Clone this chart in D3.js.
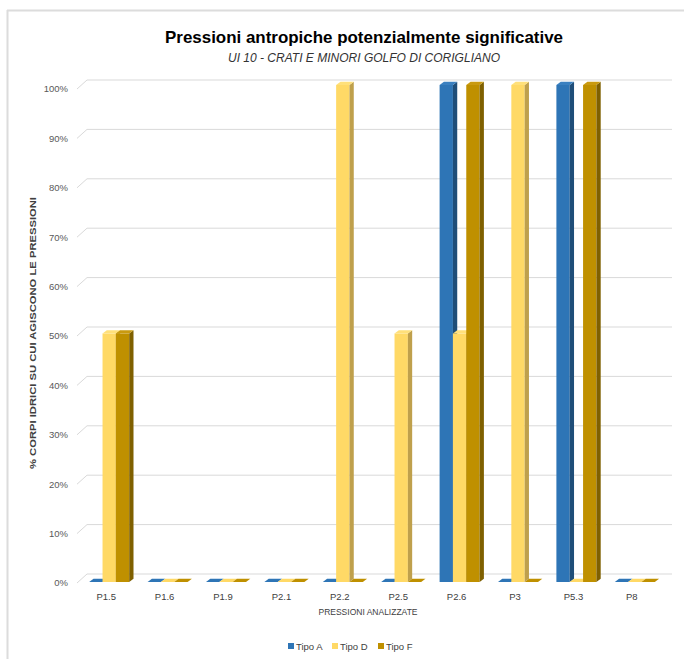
<!DOCTYPE html>
<html><head><meta charset="utf-8">
<script src="https://cdn.jsdelivr.net/npm/d3@7"></script>
<style>body{margin:0;background:#fff}svg{display:block}</style>
</head><body>
<script>
const categories = ["P1.5","P1.6","P1.9","P2.1","P2.2","P2.5","P2.6","P3","P5.3","P8"];
const tipoA = [0,0,0,0,0,0,1,0,1,0];
const tipoD = [0.5,0,0,0,1,0.5,0.5,1,0,0];
const tipoF = [0.5,0,0,0,0,0,1,0,1,0];
const seriesNames = ["Tipo A","Tipo D","Tipo F"];
const yTicks = [0,0.1,0.2,0.3,0.4,0.5,0.6,0.7,0.8,0.9,1];

const colors = [
  {front:"#2E75B6", side:"#1F4E79", top:"#3A80C0"},
  {front:"#FFD966", side:"#BFA04C", top:"#FFE07A"},
  {front:"#BF9000", side:"#7F6000", top:"#C99A10"}
];
const series = [tipoA, tipoD, tipoF];

const W = 684, H = 659;
const svg = d3.select("body").append("svg").attr("width",W).attr("height",H);

// border
svg.append("line").attr("x1",7.5).attr("x2",7.5).attr("y1",10).attr("y2",H).attr("stroke","#dcdcdc").attr("stroke-width",2);
svg.append("line").attr("x1",7).attr("x2",W).attr("y1",10.5).attr("y2",10.5).attr("stroke","#dcdcdc").attr("stroke-width",2);

const font = "'Liberation Sans', Arial, sans-serif";

// titles
svg.append("text").attr("x",364).attr("y",43).attr("text-anchor","middle")
  .attr("font-family",font).attr("font-weight","bold").attr("font-size",16.5).attr("fill","#000")
  .attr("textLength",398).attr("lengthAdjust","spacingAndGlyphs")
  .text("Pressioni antropiche potenzialmente significative");
svg.append("text").attr("x",364).attr("y",62).attr("text-anchor","middle")
  .attr("font-family",font).attr("font-style","italic").attr("font-size",12).attr("fill","#333")
  .attr("textLength",272).attr("lengthAdjust","spacingAndGlyphs")
  .text("UI 10 - CRATI E MINORI GOLFO DI CORIGLIANO");

// scales
const y = d3.scaleLinear().domain([0,1]).range([583,89]);
const yBar = d3.scaleLinear().domain([0,1]).range([582,85]);
const x0 = d3.scaleBand().domain(categories).range([77,661]);
const inner = d3.scaleBand().domain(seriesNames).range([-17,23]);

const wallDx = 10, wallDy = 9;
// gridlines
const g = svg.append("g");
yTicks.forEach(t => {
  const yy = y(t);
  g.append("path").attr("d",`M77,${yy}L${77+wallDx},${yy-wallDy}L672,${yy-wallDy}`)
    .attr("fill","none").attr("stroke","#d9d9d9").attr("stroke-width",1);
  g.append("text").attr("x",68).attr("y",yy).attr("dy","0.35em").attr("text-anchor","end")
    .attr("font-family",font).attr("font-size",9.5).attr("fill","#595959")
    .text(d3.format(".0%")(t));
});

// bars
const dx = 4.3, dy = 3.2;
const bars = svg.append("g");
categories.forEach((c,i) => {
  const cx = x0(c) + x0.bandwidth()/2;
  series.forEach((s,k) => {
    const v = s[i];
    const x = cx + inner(seriesNames[k]);
    const w = inner.bandwidth();
    const yt = yBar(v), yb = yBar(0);
    const col = colors[k];
    if (yb - yt > 0.5) {
      bars.append("rect").attr("x",x).attr("y",yt).attr("width",w).attr("height",yb-yt).attr("fill",col.front);
      bars.append("path").attr("d",`M${x+w},${yt}L${x+w+dx},${yt-dy}L${x+w+dx},${yb-dy}L${x+w},${yb}Z`).attr("fill",col.side);
    }
    bars.append("path").attr("d",`M${x},${yt}L${x+dx},${yt-dy}L${x+w+dx},${yt-dy}L${x+w},${yt}Z`)
      .attr("fill", v>0 ? col.top : col.front);
  });
  svg.append("text").attr("x",cx).attr("y",600).attr("text-anchor","middle")
    .attr("font-family",font).attr("font-size",9.5).attr("fill","#404040").text(c);
});

// axis titles
svg.append("text").attr("x",368).attr("y",615).attr("text-anchor","middle")
  .attr("font-family",font).attr("font-size",8.5).attr("fill","#404040").text("PRESSIONI ANALIZZATE");
svg.append("text").attr("transform","translate(36,333) rotate(-90)").attr("text-anchor","middle")
  .attr("font-family",font).attr("font-weight","bold").attr("font-size",8.5).attr("fill","#404040")
  .attr("textLength",272).attr("lengthAdjust","spacingAndGlyphs")
  .text("% CORPI IDRICI SU CUI AGISCONO LE PRESSIONI");

// legend
const legX = [288,332,378];
seriesNames.forEach((n,k) => {
  svg.append("rect").attr("x",legX[k]).attr("y",643).attr("width",6).attr("height",6).attr("fill",colors[k].front);
  svg.append("text").attr("x",legX[k]+8).attr("y",646.5).attr("dy","0.35em")
    .attr("font-family",font).attr("font-size",9.5).attr("fill","#404040").text(n);
});
</script>
</body></html>
